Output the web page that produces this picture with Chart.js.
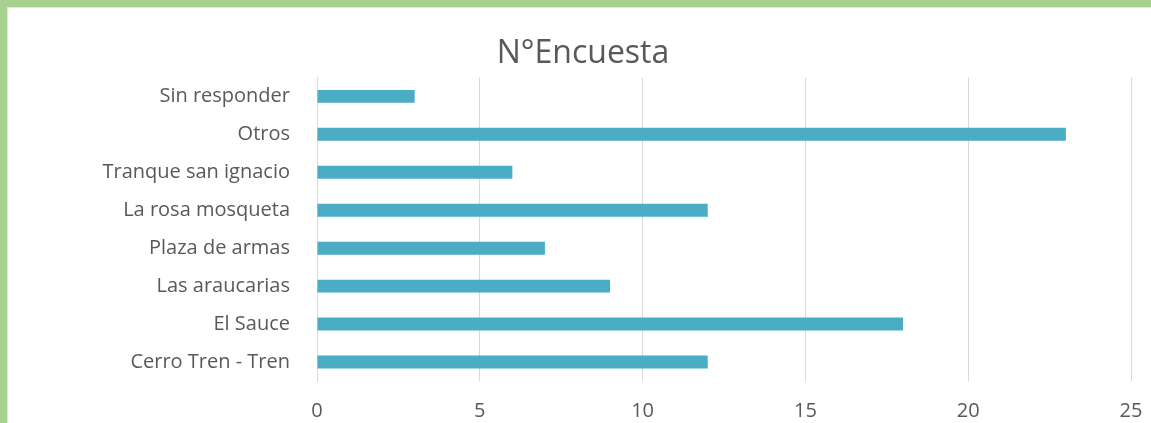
<!DOCTYPE html>
<html>
<head>
<meta charset="utf-8">
<script src="https://cdn.jsdelivr.net/npm/chart.js@4"></script>
<style>
  html, body { margin: 0; padding: 0; background: #fff; overflow: hidden; }
  #frame {
    position: absolute; left: 0; top: 0; width: 1151px; height: 423px;
    box-sizing: border-box;
    border-left: 7px solid #a9d18e; border-top: 7px solid #a9d18e;
  }
  #shade {
    position: absolute; left: 7px; top: 7px; right: 0; bottom: 0;
    border-left: 1px solid #e4e4e4; border-top: 1px solid #e4e4e4;
  }
  #wrap { position: absolute; left: 8px; top: 8px; width: 1143px; height: 415px; }
</style>
</head>
<body>
<div id="frame"></div>
<div id="shade"></div>
<div id="wrap"><canvas id="chart" width="1143" height="415"></canvas></div>
<script>
const labels = ['Sin responder', 'Otros', 'Tranque san ignacio', 'La rosa mosqueta',
  'Plaza de armas', 'Las araucarias', 'El Sauce', 'Cerro Tren - Tren']
const values = [3, 23, 6, 12, 7, 9, 18, 12]
const xTicks = [0, 5, 10, 15, 20, 25]

const grey = '#595959'
const font = "'Open Sans', 'Liberation Sans', sans-serif"

new Chart(document.getElementById('chart'), {
  type: 'bar',
  data: {
    labels,
    datasets: [{
      label: 'N°Encuesta',
      data: values,
      backgroundColor: '#4bacc6',
      barPercentage: 0.34,
      categoryPercentage: 1,
    }],
  },
  options: {
    indexAxis: 'y',
    responsive: false,
    animation: false,
    layout: { padding: { top: 27, right: 20, bottom: 0, left: 27 } },
    plugins: {
      legend: { display: false },
      tooltip: { enabled: false },
      title: {
        display: true,
        text: 'N°Encuesta',
        color: grey,
        font: { family: font, size: 32, weight: 'normal' },
        padding: { top: 0, bottom: 4 },
      },
    },
    scales: {
      x: {
        min: 0,
        max: 25,
        afterBuildTicks: (scale) => { scale.ticks = xTicks.map(v => ({ value: v })) },
        afterFit: (scale) => {
          scale.height = 42
          scale.paddingRight = 0
          scale.paddingLeft = 0
        },
        grid: { color: '#d9d9d9', drawTicks: false },
        border: { display: false },
        ticks: { color: grey, padding: 18, font: { family: font, size: 20 } },
      },
      y: {
        afterFit: (scale) => {
          scale.width = 282
          scale.paddingTop = 0
          scale.paddingBottom = 0
        },
        grid: { display: false },
        border: { color: '#d9d9d9', width: 1 },
        ticks: { color: grey, padding: 19, font: { family: font, size: 20 } },
      },
    },
  },
})
</script>
</body>
</html>
